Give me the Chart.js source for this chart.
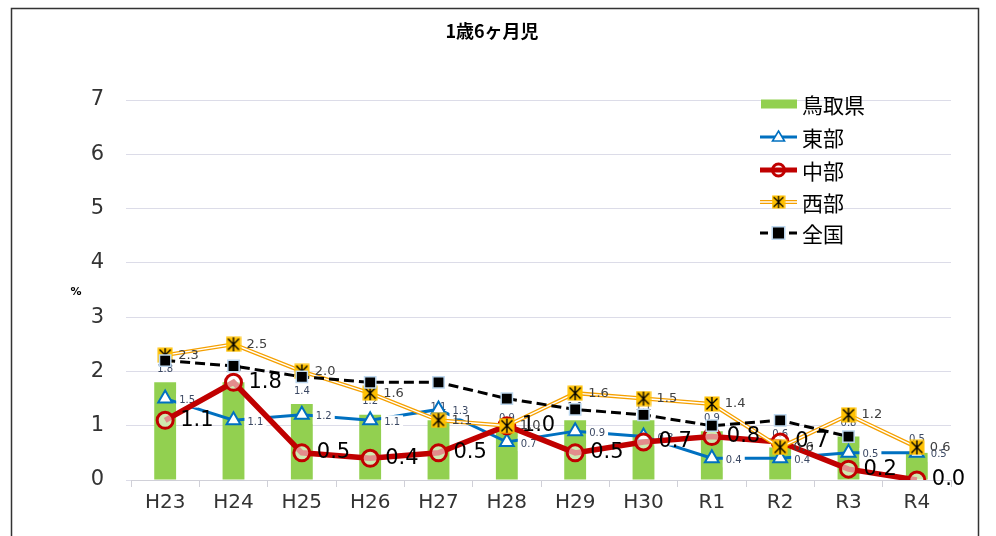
<!DOCTYPE html>
<html><head><meta charset="utf-8">
<script src="https://cdn.jsdelivr.net/npm/chart.js@4.4.1/dist/chart.umd.min.js"></script>
<style>html,body{margin:0;padding:0;background:#fff;}canvas{display:block;}</style>
</head><body>
<canvas id="c" width="996" height="536"></canvas>
<script>
const categories = ['H23','H24','H25','H26','H27','H28','H29','H30','R1','R2','R3','R4'];
const tottori  = [1.8,1.8,1.4,1.2,1.1,0.9,1.1,1.1,0.9,0.6,0.8,0.5];
const east     = [1.5,1.1,1.2,1.1,1.3,0.7,0.9,0.8,0.4,0.4,0.5,0.5];
const central  = [1.1,1.8,0.5,0.4,0.5,1.0,0.5,0.7,0.8,0.7,0.2,0.0];
const west     = [2.3,2.5,2.0,1.6,1.1,1.0,1.6,1.5,1.4,0.6,1.2,0.6];
const national = [2.2,2.1,1.9,1.8,1.8,1.5,1.3,1.2,1.0,1.1,0.8,null];
const seriesNames = ['鳥取県','東部','中部','西部','全国'];
const yTickValues = [0,1,2,3,4,5,6,7];
const titleText = '1歳6ヶ月児';
const yUnit = '%';

const LATIN = '"DejaVu Sans", Verdana, sans-serif';
const CJK = '"Noto Sans CJK JP", sans-serif';

function westMarker() {
  const c = document.createElement('canvas');
  c.width = 16; c.height = 16;
  const g = c.getContext('2d');
  g.fillStyle = '#ffc000';
  g.fillRect(0.5, 0.5, 15, 15);
  g.strokeStyle = '#000';
  g.lineWidth = 1.4;
  g.beginPath();
  g.moveTo(2.5, 2.5); g.lineTo(13.5, 13.5);
  g.moveTo(13.5, 2.5); g.lineTo(2.5, 13.5);
  g.moveTo(8, 1); g.lineTo(8, 15);
  g.stroke();
  return c;
}
const wMark = westMarker();

function drawLabels(chart, meta, ds) {
  const st = ds.labelStyle;
  const ctx = chart.ctx;
  ctx.save();
  ctx.font = st.font;
  ctx.fillStyle = st.color;
  meta.data.forEach((el, i) => {
    const v = ds.data[i];
    if (v === null || v === undefined) return;
    const t = v.toFixed(1);
    if (st.pos === 'top') {
      ctx.textAlign = 'center';
      ctx.textBaseline = 'bottom';
      ctx.fillText(t, el.x, el.y - st.off);
    } else {
      ctx.textAlign = 'left';
      ctx.textBaseline = 'middle';
      const x = el.x + st.off, y = el.y + (st.dy || 0);
      if (st.box) {
        const w = ctx.measureText(t).width;
        ctx.fillStyle = '#fff';
        ctx.fillRect(x - 3, y - 7, w + 6, 14);
        ctx.fillStyle = st.color;
      }
      ctx.fillText(t, x, y);
    }
  });
  ctx.restore();
}

const labelPlugin = {
  id: 'dataLabelsCustom',
  afterDatasetDraw(chart, args) {
    const ds = chart.data.datasets[args.index];
    if (ds.labelStyle && !ds.labelStyle.late) drawLabels(chart, args.meta, ds);
  },
  afterDatasetsDraw(chart) {
    chart.data.datasets.forEach((ds, i) => {
      if (ds.labelStyle && ds.labelStyle.late) drawLabels(chart, chart.getDatasetMeta(i), ds);
    });
  }
};

const decoPlugin = {
  id: 'deco',
  afterDraw(chart) {
    const ctx = chart.ctx;
    const a = chart.chartArea;
    ctx.save();
    ctx.strokeStyle = '#333';
    ctx.lineWidth = 1.5;
    ctx.beginPath();
    ctx.moveTo(11.5, 540); ctx.lineTo(11.5, 8.5); ctx.lineTo(978.5, 8.5); ctx.lineTo(978.5, 540);
    ctx.stroke();
    ctx.fillStyle = '#000';
    ctx.font = 'bold 18px ' + CJK;
    ctx.textAlign = 'center';
    ctx.textBaseline = 'middle';
    ctx.fillText(titleText, 492, 31);
    ctx.font = 'bold 11px ' + LATIN;
    ctx.fillText(yUnit, 76, 292);
    const lx = a.right - 191, rows = [104, 137, 170, 202, 233];
    const cx = lx + 18.5;
    ctx.textAlign = 'left';
    ctx.font = '21px ' + CJK;
    seriesNames.forEach((n, i) => {
      const y = rows[i];
      if (i === 0) {
        ctx.fillStyle = '#92d050';
        ctx.fillRect(lx + 1, y - 4.5, 36, 9);
      } else if (i === 1) {
        ctx.strokeStyle = '#0070c0'; ctx.lineWidth = 3;
        ctx.beginPath(); ctx.moveTo(lx, y); ctx.lineTo(lx + 37, y); ctx.stroke();
        ctx.fillStyle = '#fff'; ctx.lineWidth = 1.6;
        ctx.beginPath(); ctx.moveTo(cx, y - 6); ctx.lineTo(cx + 6, y + 4); ctx.lineTo(cx - 6, y + 4); ctx.closePath();
        ctx.fill(); ctx.stroke();
      } else if (i === 2) {
        ctx.strokeStyle = '#c00000'; ctx.lineWidth = 5;
        ctx.beginPath(); ctx.moveTo(lx, y); ctx.lineTo(lx + 37, y); ctx.stroke();
        ctx.lineWidth = 3;
        ctx.beginPath(); ctx.arc(cx, y, 6, 0, Math.PI * 2); ctx.stroke();
      } else if (i === 3) {
        ctx.strokeStyle = '#f5a000'; ctx.lineWidth = 4;
        ctx.beginPath(); ctx.moveTo(lx, y); ctx.lineTo(lx + 37, y); ctx.stroke();
        ctx.strokeStyle = '#fff'; ctx.lineWidth = 1.4;
        ctx.beginPath(); ctx.moveTo(lx, y); ctx.lineTo(lx + 37, y); ctx.stroke();
        ctx.drawImage(wMark, cx - 7, y - 7, 14, 14);
      } else {
        ctx.strokeStyle = '#000'; ctx.lineWidth = 3;
        ctx.beginPath(); ctx.moveTo(lx, y); ctx.lineTo(lx + 8, y); ctx.moveTo(lx + 29, y); ctx.lineTo(lx + 37, y); ctx.stroke();
        ctx.fillStyle = '#bdd7ee'; ctx.fillRect(cx - 7, y - 7, 14, 14);
        ctx.fillStyle = '#000'; ctx.fillRect(cx - 5.5, y - 5.5, 11, 11);
      }
      ctx.fillStyle = '#000';
      ctx.fillText(n, lx + 42, y + 1);
    });
    ctx.restore();
  }
};

const smallLabel = { font: '10px ' + LATIN, color: '#3b4863' };

new Chart(document.getElementById('c'), {
  data: {
    labels: categories,
    datasets: [
      { type: 'bar', label: seriesNames[0], data: tottori, backgroundColor: '#92d050',
        barPercentage: 0.32, categoryPercentage: 1, order: 10,
        labelStyle: Object.assign({ pos: 'top', off: 8 }, smallLabel) },
      { type: 'line', label: seriesNames[1], data: east, borderColor: '#0070c0', borderWidth: 3,
        pointStyle: 'triangle', pointRadius: 8, pointBorderWidth: 2, pointBackgroundColor: '#fff',
        pointBorderColor: '#0070c0', tension: 0, order: 6,
        labelStyle: Object.assign({ pos: 'right', off: 14, box: true, dy: 2 }, smallLabel) },
      { type: 'line', label: seriesNames[2], data: central, borderColor: '#c00000', borderWidth: 5.5,
        pointStyle: 'circle', pointRadius: 8, pointBorderWidth: 3, pointBackgroundColor: 'rgba(255,255,255,0.55)',
        pointBorderColor: '#c00000', tension: 0, order: 5,
        labelStyle: { pos: 'right', off: 15, font: '21px ' + LATIN, color: '#000', late: true } },
      { type: 'line', label: seriesNames[3], data: west, borderColor: '#f5a000', borderWidth: 4,
        pointRadius: 0, tension: 0, order: 4 },
      { type: 'line', label: seriesNames[3], data: west, borderColor: '#ffffff', borderWidth: 1.4,
        pointRadius: 0, tension: 0, order: 3 },
      { type: 'line', label: seriesNames[3], data: west, showLine: false, pointStyle: wMark,
        pointRadius: 8, order: 2,
        labelStyle: { pos: 'right', off: 13, font: '13px ' + LATIN, color: '#404040', late: true } },
      { type: 'line', label: seriesNames[4], data: national, borderColor: '#000', borderWidth: 3,
        borderDash: [10, 5], pointStyle: 'rect', pointRadius: 8, pointBackgroundColor: '#000',
        pointBorderColor: '#bdd7ee', pointBorderWidth: 1.5, tension: 0, order: 1, spanGaps: false }
    ]
  },
  options: {
    responsive: false,
    devicePixelRatio: 1,
    animation: false,
    layout: { padding: { top: 100, right: 45, left: 0, bottom: 0 } },
    plugins: { legend: { display: false }, tooltip: { enabled: false }, title: { display: false } },
    scales: {
      x: {
        type: 'category',
        offset: true,
        grid: { display: true, drawOnChartArea: false, tickLength: 7, color: '#d0d0d8', offset: true },
        border: { display: true, color: '#d0d0d8', width: 1 },
        ticks: { font: { family: LATIN, size: 20 }, color: '#333', padding: 4, maxRotation: 0 },
        afterFit(s) { s.height = 56; }
      },
      y: {
        min: 0, max: 7,
        afterBuildTicks(s) { s.ticks = yTickValues.map(v => ({ value: v })); },
        grid: { color: '#dcdce8', tickLength: 5, lineWidth: 1 },
        border: { display: false },
        ticks: { font: { family: LATIN, size: 21 }, color: '#333', padding: 22 },
        afterFit(s) { s.width = 131; }
      }
    }
  },
  plugins: [labelPlugin, decoPlugin]
});
</script>
</body></html>
